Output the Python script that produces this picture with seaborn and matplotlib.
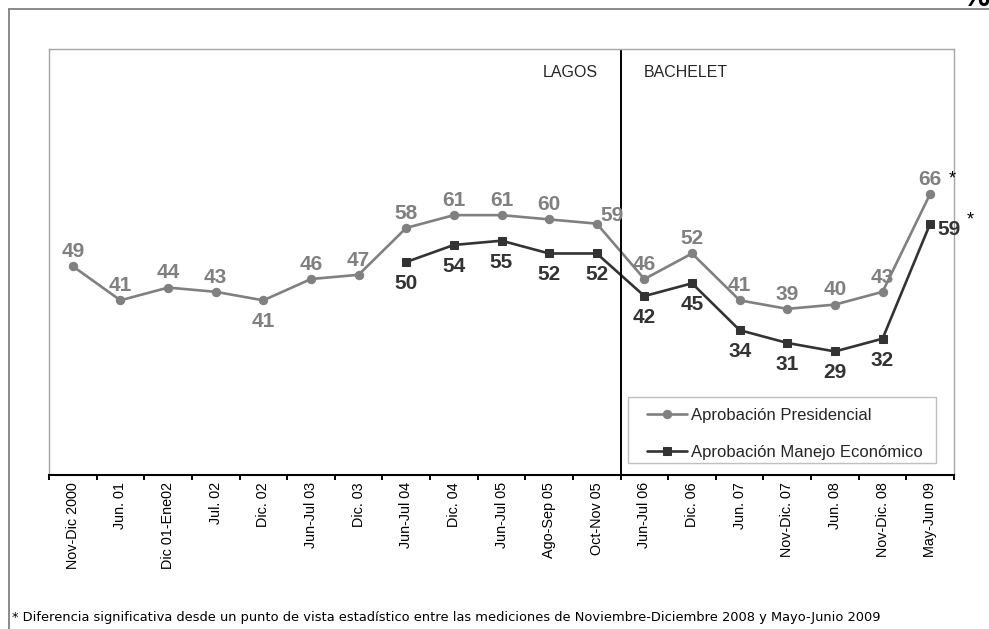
import numpy as np
import pandas as pd
import matplotlib
matplotlib.use("Agg")
import matplotlib.pyplot as plt
from matplotlib.lines import Line2D
from matplotlib.patches import Rectangle
import seaborn as sns

# ---------------- data ----------------
periods = ["Nov-Dic 2000", "Jun. 01", "Dic 01-Ene02", "Jul. 02", "Dic. 02",
           "Jun-Jul 03", "Dic. 03", "Jun-Jul 04", "Dic. 04", "Jun-Jul 05",
           "Ago-Sep 05", "Oct-Nov 05", "Jun-Jul 06", "Dic. 06", "Jun. 07",
           "Nov-Dic. 07", "Jun. 08", "Nov-Dic. 08", "May-Jun 09"]
presidencial = [49, 41, 44, 43, 41, 46, 47, 58, 61, 61, 60, 59,
                46, 52, 41, 39, 40, 43, 66]
economico = [None, None, None, None, None, None, None, 50, 54, 55, 52, 52,
             42, 45, 34, 31, 29, 32, 59]
series_names = ["Aprobación Presidencial", "Aprobación Manejo Económico"]
government_labels = ["LAGOS", "BACHELET"]
footnote = ("* Diferencia significativa desde un punto de vista estadístico entre las "
            "mediciones de Noviembre-Diciembre 2008 y Mayo-Junio 2009")

# ---------------- styling ----------------
sns.set_theme(style="white")
plt.rcParams["font.family"] = ["Liberation Sans", "DejaVu Sans"]

GREY = "#808080"
DARK = "#333333"
W, H = 989, 629
fig = plt.figure(figsize=(W / 100, H / 100), dpi=100)

L, R, T, B = 49, 954, 49, 475
ax = fig.add_axes([L / W, 1 - B / H, (R - L) / W, (B - T) / H])

def px_to_axes(px, py):
    return ((px - L) / (R - L), (B - py) / (B - T))

x = np.arange(len(periods))
df_p = pd.DataFrame({"x": x, "v": presidencial})
df_e = pd.DataFrame({"x": x, "v": economico}).dropna()

sns.lineplot(data=df_p, x="x", y="v", ax=ax, color=GREY, lw=1.9,
             marker="o", markersize=6, markeredgecolor=GREY,
             label=series_names[0])
sns.lineplot(data=df_e, x="x", y="v", ax=ax, color=DARK, lw=1.9,
             marker="s", markersize=5.5, markeredgecolor=DARK,
             label=series_names[1])

ax.set_xlim(-0.5, len(periods) - 0.5)
ax.set_ylim(0, 100)
ax.set_xlabel("")
ax.set_ylabel("")
ax.set_yticks([])

# x ticks at category boundaries, labels at centres
ax.set_xticks(np.arange(-0.5, len(periods), 1))
ax.set_xticklabels([])
ax.set_xticks(x, minor=True)
ax.set_xticklabels(periods, minor=True, rotation=90, fontsize=10.4, color="black",
                   va="top")
ax.tick_params(axis="x", which="major", direction="out", length=3.5, width=1.4,
               color="black", bottom=True)
ax.tick_params(axis="x", which="minor", length=0, pad=5, bottom=True)

for s in ["left", "top", "right"]:
    ax.spines[s].set_color("#a6a6a6")
    ax.spines[s].set_linewidth(1.0)
ax.spines["bottom"].set_color("black")
ax.spines["bottom"].set_linewidth(1.5)

# government divider
ax.axvline(11.5, color="black", lw=1.4)
ax.annotate(government_labels[0], (11.5, 94.6), xytext=(-16, 0),
            textcoords="offset points", ha="right", va="center", fontsize=11.5)
ax.annotate(government_labels[1], (11.5, 94.6), xytext=(16.5, 0),
            textcoords="offset points", ha="left", va="center", fontsize=11.5)

# data labels
fs = 15
for i, v in enumerate(presidencial):
    if i == 4:
        off = (0, -14)
    elif i == 11:
        off = (11, 7)
    else:
        off = (0, 12)
    ax.annotate(str(v), (i, v), xytext=off, textcoords="offset points",
                ha="center", va="center_baseline", fontsize=fs,
                fontweight="bold", color=GREY, annotation_clip=False)
for i, v in enumerate(economico):
    if v is None:
        continue
    if i == len(economico) - 1:
        off, ha = (5, -3), "left"
    else:
        off, ha = (0, -14), "center"
    ax.annotate(str(v), (i, v), xytext=off, textcoords="offset points",
                ha=ha, va="center_baseline", fontsize=fs, fontweight="bold",
                color=DARK, annotation_clip=False)

# significance stars
last = len(periods) - 1
ax.annotate("*", (last, presidencial[last]), xytext=(16, 11),
            textcoords="offset points", ha="center", va="center",
            fontsize=13, color="black", annotation_clip=False)
ax.annotate("*", (last, economico[last]), xytext=(29, 3),
            textcoords="offset points", ha="center", va="center",
            fontsize=13, color="black", annotation_clip=False)

# legend (frame drawn separately to match the wide padding)
lx, ly = px_to_axes(930, 467)
leg = ax.legend(loc="lower right", bbox_to_anchor=(lx, ly),
                borderaxespad=0, frameon=False,
                fontsize=12, handlelength=2.4, handletextpad=0.2,
                labelspacing=1.3, borderpad=0.45)
fx0, fy0 = px_to_axes(628, 463)
fx1, fy1 = px_to_axes(936, 397)
ax.add_patch(Rectangle((fx0, fy0), fx1 - fx0, fy1 - fy0, transform=ax.transAxes,
                       fill=True, facecolor="white", edgecolor="#c0c0c0",
                       lw=1.0, zorder=4))
leg.set_zorder(5)

# outer frame of the slide/image
fig.add_artist(Line2D([9 / W, 9 / W], [0, 1 - 9 / H], transform=fig.transFigure,
                      color="#777777", lw=1.2))
fig.add_artist(Line2D([9 / W, 1], [1 - 9 / H, 1 - 9 / H], transform=fig.transFigure,
                      color="#777777", lw=1.2))

# cut-off symbol top right (partially outside the image, as in the original)
fig.text(976 / W, 1 - 6 / H, "%", ha="center", va="baseline", fontsize=22,
         fontweight="bold", color="black")

# footnote
fig.text(12 / W, 1 - 617 / H, footnote, ha="left", va="center",
         fontsize=9.4, family=["DejaVu Sans"], color="black")

fig.savefig("out.png", dpi=100)
